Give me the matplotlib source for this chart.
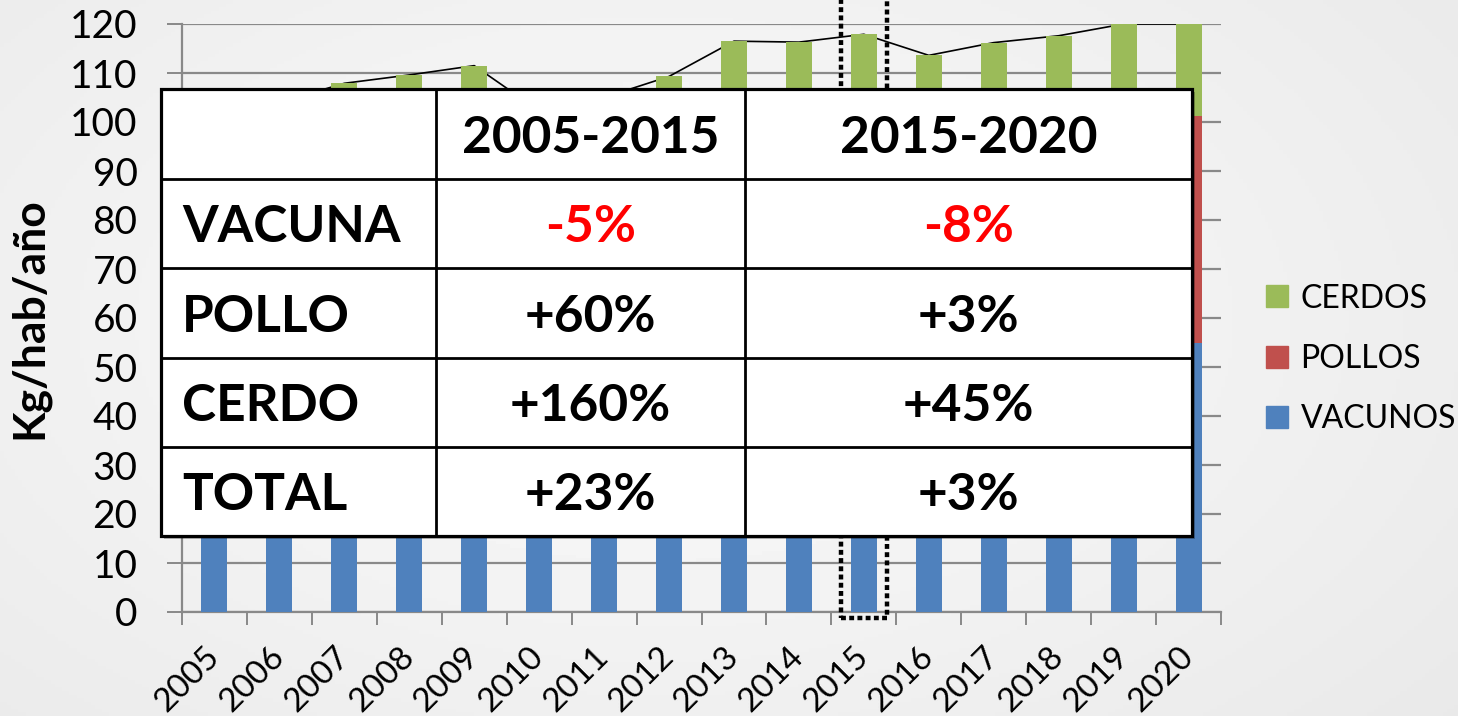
import numpy as np
import matplotlib
matplotlib.use("Agg")
import matplotlib.pyplot as plt
from matplotlib.patches import Rectangle

# ---------------- data ----------------
years = [str(y) for y in range(2005, 2021)]
vacunos = [62.9, 64.5, 67.5, 68.0, 68.5, 57.0, 55.0, 57.5, 61.5, 59.0, 59.8, 55.5, 57.0, 56.5, 52.5, 55.0]
pollos = [28.1, 32.5, 32.4, 33.1, 34.0, 36.0, 40.0, 41.3, 43.6, 45.2, 45.0, 44.0, 44.6, 44.6, 48.5, 46.3]
cerdos = [5.0, 7.0, 8.0, 8.5, 9.0, 9.3, 10.0, 10.5, 11.4, 12.1, 13.1, 14.1, 14.6, 16.5, 19.0, 18.7]
series_names = ["VACUNOS", "POLLOS", "CERDOS"]
highlight_year = "2015"

table_periods = ["2005-2015", "2015-2020"]
table_rows = ["VACUNA", "POLLO", "CERDO", "TOTAL"]
change_2005_2015 = ["-5%", "+60%", "+160%", "+23%"]
change_2015_2020 = ["-8%", "+3%", "+45%", "+3%"]

y_ticks = list(range(0, 121, 10))
y_label = "Kg/hab/año"

# ---------------- style ----------------
W, H = 1458, 716
DPI = 100
plt.rcParams["font.family"] = ["Lato", "DejaVu Sans"]
C_VAC, C_POL, C_CER = "#4F81BD", "#C0504D", "#9BBB59"
GRID = "#898989"

fig = plt.figure(figsize=(W / DPI, H / DPI), dpi=DPI)

# background gradient
bg = fig.add_axes([0, 0, 1, 1])
bg.set_zorder(-5)
yy, xx = np.mgrid[0:1:200j, 0:1:400j]
r = np.sqrt(((xx - 0.45) / 0.75) ** 2 + ((yy - 0.45) / 0.9) ** 2)
img = 0.985 - 0.075 * np.clip(r, 0, 1.2)
bg.imshow(img, cmap="gray", vmin=0, vmax=1, aspect="auto", extent=[0, 1, 0, 1])
bg.axis("off")

def fx(px):
    return px / W

def fy(py):
    return 1 - py / H

ax = fig.add_axes([fx(182), fy(612), fx(1221) - fx(182), fy(24) - fy(612)])
ax.set_facecolor("none")

x = np.arange(len(years))
vac = np.array(vacunos)
pol = np.array(pollos)
cer = np.array(cerdos)
total = vac + pol + cer

bw = 0.4
ax.bar(x, vac, width=bw, color=C_VAC, zorder=3, label=series_names[0])
ax.bar(x, pol, width=bw, bottom=vac, color=C_POL, zorder=3, label=series_names[1])
ax.bar(x, cer, width=bw, bottom=vac + pol, color=C_CER, zorder=3, label=series_names[2])
ax.plot(x, total, color="black", lw=1.2, zorder=2.5)

ax.set_xlim(-0.5, len(years) - 0.5)
ax.set_ylim(0, 120)
ax.set_yticks(y_ticks)
ax.set_yticklabels([str(v) for v in y_ticks], fontsize=28)
ax.yaxis.grid(True, color=GRID, lw=1.6, zorder=0)
ax.set_axisbelow(True)
ax.tick_params(axis="y", length=11, width=1.4, color=GRID, pad=21)

ax.set_xticks(x)
ax.set_xticklabels(years, fontsize=24, rotation=45, ha="right", rotation_mode="anchor")
for lab in ax.get_xticklabels():
    lab.set_va("center")
ax.tick_params(axis="x", which="major", length=0, pad=28.5)
ax.set_xticks(np.arange(-0.5, len(years), 1.0), minor=True)
ax.tick_params(axis="x", which="minor", length=9.4, width=1.4, color=GRID)

for s in ["top", "right"]:
    ax.spines[s].set_visible(False)
for s in ["left", "bottom"]:
    ax.spines[s].set_color(GRID)
    ax.spines[s].set_linewidth(1.6)

# dotted highlight rectangle around highlighted year
hi = years.index(highlight_year)
rect = Rectangle((hi - 0.35, -1.2), 0.7, 130, fill=False, edgecolor="black",
                 lw=3.2, linestyle=(0, (1.1, 0.75)), clip_on=False, zorder=4)
ax.add_patch(rect)

# y label
fig.text(fx(29), fy(318), y_label, rotation=90, fontsize=32, fontweight="bold",
         ha="center", va="center")

# legend (reverse order)
handles = [Rectangle((0, 0), 1, 1, color=c) for c in [C_CER, C_POL, C_VAC]]
fig.legend(handles, [series_names[2], series_names[1], series_names[0]], loc="center left",
           bbox_to_anchor=(fx(1266), fy(359)), frameon=False, fontsize=23,
           borderpad=0, borderaxespad=0,
           handlelength=0.68, handleheight=0.68, handletextpad=0.4, labelspacing=0.95)

# overlay table
col_edges = [161, 436, 745, 1192]
row_edges = [89, 178.5, 268, 357.5, 447, 536]
# shadow
fig.patches.append(Rectangle((fx(col_edges[0] + 3), fy(row_edges[-1] + 3)),
                             fx(col_edges[-1]) - fx(col_edges[0]),
                             fy(row_edges[0]) - fy(row_edges[-1]),
                             transform=fig.transFigure, facecolor="#000000", alpha=0.25,
                             edgecolor="none", zorder=5))
fig.patches.append(Rectangle((fx(col_edges[0]), fy(row_edges[-1])),
                             fx(col_edges[-1]) - fx(col_edges[0]),
                             fy(row_edges[0]) - fy(row_edges[-1]),
                             transform=fig.transFigure, facecolor="white",
                             edgecolor="black", lw=2.3, zorder=6))
for ce in col_edges[1:-1]:
    fig.add_artist(plt.Line2D([fx(ce), fx(ce)], [fy(row_edges[0]), fy(row_edges[-1])],
                              transform=fig.transFigure, color="black", lw=2.0, zorder=7))
for re_ in row_edges[1:-1]:
    fig.add_artist(plt.Line2D([fx(col_edges[0]), fx(col_edges[-1])], [fy(re_), fy(re_)],
                              transform=fig.transFigure, color="black", lw=2.0, zorder=7))

TFS = 37
def cell_y(i):
    return fy((row_edges[i] + row_edges[i + 1]) / 2)

def col_x(j):
    return fx((col_edges[j] + col_edges[j + 1]) / 2)

for j, p in enumerate(table_periods):
    fig.text(col_x(j + 1), cell_y(0), p, fontsize=TFS, fontweight="bold",
             ha="center", va="center_baseline", zorder=8)
for i, lab in enumerate(table_rows):
    fig.text(fx(182), cell_y(i + 1), lab, fontsize=TFS, fontweight="bold",
             ha="left", va="center_baseline", zorder=8)
    for j, vals in enumerate([change_2005_2015, change_2015_2020]):
        v = vals[i]
        col = "#FF0000" if v.startswith("-") else "black"
        fig.text(col_x(j + 1), cell_y(i + 1), v, fontsize=TFS, fontweight="bold",
                 ha="center", va="center_baseline", color=col, zorder=8)

fig.savefig("out.png", dpi=DPI)
